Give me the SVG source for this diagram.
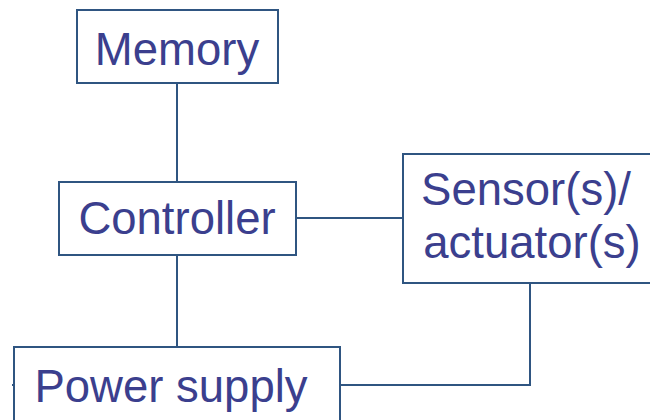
<svg xmlns="http://www.w3.org/2000/svg" width="650" height="420" viewBox="0 0 650 420">
  <style>
    .box { fill: #ffffff; stroke: #2f5581; stroke-width: 2; }
    .wire { fill: none; stroke: #2f5581; stroke-width: 2; }
    .label { font-family: "Liberation Sans", Arial, sans-serif; font-size: 45.5px; fill: #3b3f8e; text-anchor: middle; }
  </style>
  <rect width="650" height="420" fill="#ffffff"/>

  <!-- connectors -->
  <g id="connectors">
    <line class="wire" x1="177" y1="83" x2="177" y2="182"/>
    <line class="wire" x1="296" y1="218" x2="403" y2="218"/>
    <line class="wire" x1="177" y1="255" x2="177" y2="347"/>
    <polyline class="wire" points="340,385 530,385 530,283"/>
    <line class="wire" x1="12" y1="385" x2="14" y2="385"/>
  </g>

  <g id="memory">
    <rect class="box" x="77" y="10" width="201" height="73"/>
    <text class="label" x="177" y="65">Memory</text>
  </g>

  <g id="controller">
    <rect class="box" x="59" y="182" width="237" height="73"/>
    <text class="label" x="177" y="234">Controller</text>
  </g>

  <g id="sensors">
    <rect class="box" x="403" y="154" width="260" height="129"/>
    <text class="label" x="526" y="205">Sensor(s)/</text>
    <text class="label" x="532" y="258">actuator(s)</text>
  </g>

  <g id="power">
    <rect class="box" x="14" y="347" width="326" height="90"/>
    <text class="label" x="171" y="402">Power supply</text>
  </g>
</svg>
